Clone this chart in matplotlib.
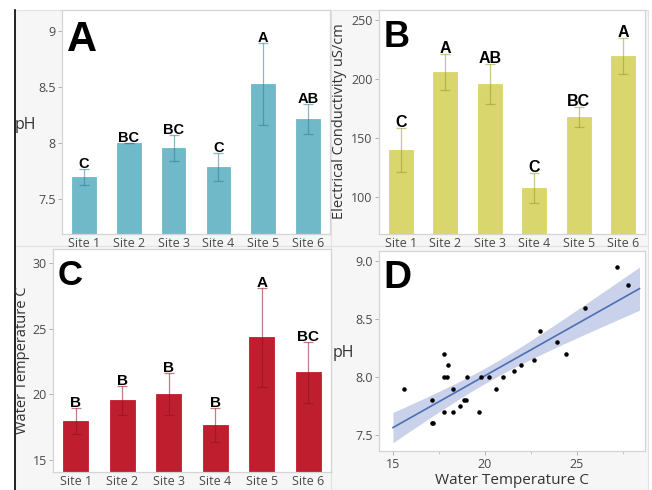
"""Four-panel site comparison: pH, conductivity, water temperature, pH vs temperature."""

import matplotlib
matplotlib.use("Agg")
import matplotlib.pyplot as plt
from matplotlib.patches import Rectangle
from matplotlib.lines import Line2D
import numpy as np

plt.rcParams["font.family"] = ["Open Sans", "DejaVu Sans"]

sites = ["Site 1", "Site 2", "Site 3", "Site 4", "Site 5", "Site 6"]

ph_mean = [7.70, 8.00, 7.96, 7.79, 8.53, 8.22]
ph_err = [0.07, 0.0, 0.115, 0.125, 0.365, 0.135]
ph_groups = ["C", "BC", "BC", "C", "A", "AB"]

ec_mean = [139.8, 205.9, 195.8, 107.9, 167.8, 219.5]
ec_err = [18.8, 15.5, 16.7, 12.8, 8.6, 15.5]
ec_groups = ["C", "A", "AB", "C", "BC", "A"]

temp_mean = [18.0, 19.55, 20.0, 17.7, 24.35, 21.68]
temp_err = [1.0, 1.1, 1.6, 1.3, 3.75, 2.3]
temp_groups = ["B", "B", "B", "B", "A", "BC"]

scatter_temp = [15.6, 17.1, 17.1, 17.2, 17.8, 18.0, 17.8, 17.95, 18.25, 17.8,
                18.25, 18.65, 18.85, 18.95, 19.05, 19.7, 19.8, 20.2, 20.6, 21.0,
                21.6, 21.95, 22.65, 23.0, 23.9, 24.4, 25.45, 27.2, 27.8]
scatter_ph = [7.9, 7.8, 7.6, 7.6, 8.2, 8.1, 8.0, 8.0, 7.9, 7.7,
              7.7, 7.75, 7.8, 7.8, 8.0, 7.7, 8.0, 8.0, 7.9, 8.0,
              8.05, 8.1, 8.15, 8.4, 8.3, 8.2, 8.6, 8.95, 8.8]
fit_range = (15.0, 28.4)

PANEL_BG = "#f6f6f6"
FRAME = "#d4d4d4"
TICK_COLOR = "#4a4a4a"
LETTER_FONT = ["Liberation Sans", "DejaVu Sans"]

fig = plt.figure(figsize=(6.52, 4.90), dpi=100)
W, H = 652.0, 490.0


def fig_rect(x0, y0, x1, y1):
    """Pixel box (top-left origin) to figure-fraction [l, b, w, h]."""
    return [x0 / W, 1 - y1 / H, (x1 - x0) / W, (y1 - y0) / H]


# grey panel backgrounds, kept behind the axes
for box in [(15, 10, 331, 246), (331, 10, 648, 246),
            (15, 246, 331, 490), (331, 246, 648, 490)]:
    l, b, w, h = fig_rect(*box)
    fig.patches.append(Rectangle((l, b), w, h, transform=fig.transFigure,
                                 facecolor=PANEL_BG, edgecolor="#e2e2e2",
                                 linewidth=0.8, zorder=-10))
fig.lines.append(Line2D([15 / W, 15 / W], [0, 1 - 10 / H],
                        transform=fig.transFigure, color="black",
                        linewidth=1.2, zorder=-5))


def style_axes(ax):
    ax.set_facecolor("white")
    for spine in ax.spines.values():
        spine.set_color(FRAME)
        spine.set_linewidth(0.9)
    ax.tick_params(axis="y", length=3, width=0.7, color="#b0b0b0",
                   labelsize=9, labelcolor=TICK_COLOR, pad=1.5)
    ax.tick_params(axis="x", length=0, labelsize=9, labelcolor=TICK_COLOR, pad=2)


def bar_panel(rect, means, errs, groups, color, ecolor, ylim, yticks,
              yticklabels, letter, letter_size, group_size):
    ax = fig.add_axes(fig_rect(*rect))
    style_axes(ax)
    x = np.arange(len(sites))
    ax.bar(x, np.array(means) - ylim[0], bottom=ylim[0], width=0.53,
           color=color, edgecolor=color, linewidth=0.6, zorder=2)
    ax.errorbar(x, means, yerr=errs, fmt="none", ecolor=ecolor, elinewidth=0.9,
                capsize=3.5, capthick=0.9, alpha=0.55, zorder=3)
    tops = np.array(means) + np.array(errs)
    for xi, top, g in zip(x, tops, groups):
        ax.annotate(g, (xi, top), xytext=(0, -1.5), textcoords="offset points",
                    ha="center", va="bottom", fontsize=group_size,
                    fontweight="bold", family=LETTER_FONT, zorder=4)
    ax.set_xlim(-0.49, 5.49)
    ax.set_ylim(*ylim)
    ax.set_xticks(x)
    ax.set_xticklabels(sites)
    ax.set_yticks(yticks)
    ax.set_yticklabels(yticklabels)
    ax.text(0.018, 0.955, letter, transform=ax.transAxes, ha="left", va="top",
            fontsize=letter_size, fontweight="bold", family=LETTER_FONT)
    return ax


# A: pH
ax_a = bar_panel((62, 10, 330, 234), ph_mean, ph_err, ph_groups,
                 "#6fb9c9", "#2f7f91", (7.19, 9.19), [7.5, 8, 8.5, 9],
                 ["7.5", "8", "8.5", "9"], "A", 30, 10.5)
ax_a.set_ylabel("pH", rotation=0, ha="center", va="center", fontsize=11.5,
                color="#333333")
ax_a.yaxis.set_label_coords(-0.138, 0.487)

# B: conductivity
ax_b = bar_panel((379, 10, 645, 234), ec_mean, ec_err, ec_groups,
                 "#d8d66c", "#9c9a2a", (68.6, 258.5), [100, 150, 200, 250],
                 ["100", "150", "200", "250"], "B", 26, 11.5)
ax_b.set_ylabel("Electrical Conductivity uS/cm", rotation=90, ha="center",
                va="center", fontsize=10.5, color="#333333")
ax_b.yaxis.set_label_coords(-0.147, 0.504)

# C: water temperature
ax_c = bar_panel((53, 249, 331, 472), temp_mean, temp_err, temp_groups,
                 "#be1e2d", "#8a1420", (14.09, 31.07), [15, 20, 25, 30],
                 ["15", "20", "25", "30"], "C", 25, 11)
ax_c.set_ylabel("Water Temperature C", rotation=90, ha="center", va="center",
                fontsize=10.5, color="#333333")
ax_c.yaxis.set_label_coords(-0.111, 0.502)

# D: pH vs temperature with linear fit
ax_d = fig.add_axes(fig_rect(379, 251, 645, 451))
style_axes(ax_d)
ax_d.tick_params(axis="x", length=3, width=0.7, color="#b0b0b0", pad=2)
ax_d.tick_params(axis="x", which="minor", length=2, width=0.6, color="#c0c0c0")

tx = np.array(scatter_temp)
py = np.array(scatter_ph)
n = len(tx)
slope, intercept = np.polyfit(tx, py, 1)
resid = py - (slope * tx + intercept)
mse = np.sum(resid ** 2) / (n - 2)
sxx = np.sum((tx - tx.mean()) ** 2)
xf = np.linspace(*fit_range, 100)
yf = slope * xf + intercept
half = 2.052 * np.sqrt(mse * (1 / n + (xf - tx.mean()) ** 2 / sxx))

ax_d.fill_between(xf, yf - half, yf + half, color="#c3cde8", alpha=0.9,
                  linewidth=0, zorder=1)
ax_d.plot(xf, yf, color="#4d6fb5", linewidth=1.2, zorder=2)
ax_d.scatter(tx, py, s=5, color="black", zorder=3)
ax_d.set_xlim(14.24, 28.7)
ax_d.set_ylim(7.36, 9.09)
ax_d.set_xticks([15, 20, 25])
ax_d.set_xticks([17.5, 22.5, 27.5], minor=True)
ax_d.set_yticks([7.5, 8.0, 8.5, 9.0])
ax_d.set_yticklabels(["7.5", "8.0", "8.5", "9.0"])
ax_d.set_xlabel("Water Temperature C", fontsize=11, color="#333333")
ax_d.xaxis.set_label_coords(0.5, -0.145)
ax_d.xaxis.label.set_va("center")
ax_d.set_ylabel("pH", rotation=0, ha="center", va="center", fontsize=11.5,
                color="#333333")
ax_d.yaxis.set_label_coords(-0.135, 0.49)
ax_d.text(0.018, 0.955, "D", transform=ax_d.transAxes, ha="left", va="top",
          fontsize=28, fontweight="bold", family=LETTER_FONT)

fig.savefig("out.png", dpi=100, facecolor="white")
